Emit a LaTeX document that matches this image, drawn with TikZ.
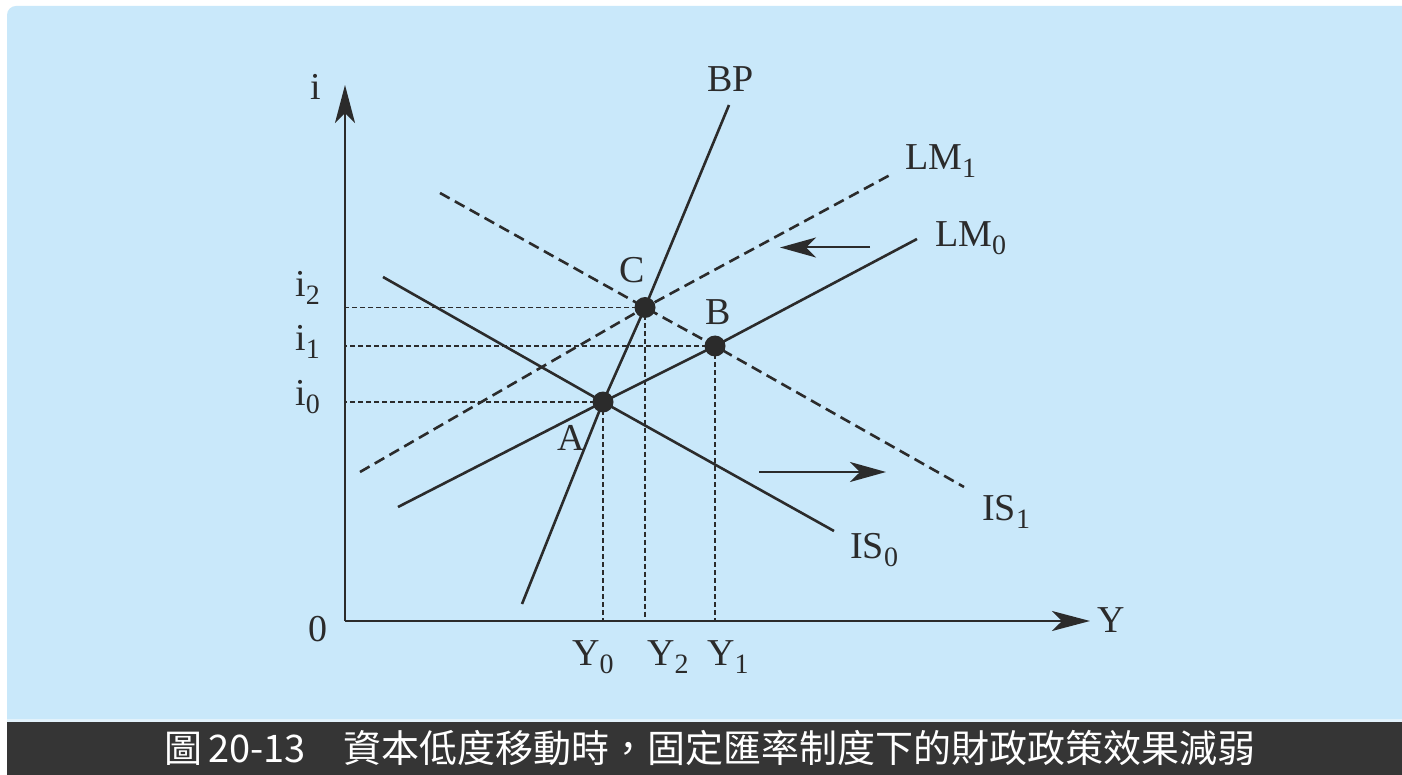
\documentclass[tikz,border=0pt]{standalone}
\usepackage{fontspec}
\setmainfont{Liberation Serif}
\newfontfamily\cjk{Noto Sans CJK TC}
\usetikzlibrary{arrows.meta}
\definecolor{bgblue}{HTML}{C9E8FA}
\definecolor{ink}{HTML}{2B2B2B}
\definecolor{barcol}{HTML}{353535}
\definecolor{seam}{HTML}{E2F2FB}
\newcommand\lsub[1]{\raisebox{-8pt}{\fontsize{28}{28}\selectfont #1}}
\begin{document}
\begin{tikzpicture}[x=1pt,y=-1pt,
  lab/.style={font=\fontsize{38}{38}\selectfont, text=ink, inner sep=0pt, anchor=base west},
  curve/.style={line width=2.6pt, draw=ink},
  dcurve/.style={curve, dash pattern=on 11pt off 6pt},
  guide/.style={line width=1.2pt, draw=ink, dash pattern=on 5pt off 3pt},
  axis/.style={line width=2pt, draw=ink, -{Stealth[length=38pt,width=20pt,inset=10pt]}},
  shiftarr/.style={line width=2pt, draw=ink, -{Stealth[length=36pt,width=20pt,inset=10pt]}},
  dot/.style={circle, fill=ink, minimum size=21pt, inner sep=0pt}]
\useasboundingbox (0,0) rectangle (1402,775);
\fill[white] (0,0) rectangle (1402,775);
\fill[bgblue] (7,721) [rounded corners=9pt] -- (7,6) [sharp corners] -- (1402,6) -- (1402,721) -- cycle;
\fill[seam] (7,719) rectangle (1402,722);
\fill[barcol] (7,722) rectangle (1402,775);
\node[font=\cjk\fontsize{38}{38}\selectfont, text=white, inner sep=0pt] (cap) at (710,748) {圖\,20-13\quad 資本低度移動時，固定匯率制度下的財政政策效果減弱};

% coordinates
\coordinate (O) at (345,621);
\coordinate (ytip) at (345,85);
\coordinate (xtip) at (1090,621);
\coordinate (A) at (603,402);
\coordinate (B) at (715,346);
\coordinate (C) at (645,307.5);
\coordinate (bpS) at (522,604);
\coordinate (bpE) at (729,105);
\coordinate (is0S) at (383,277);
\coordinate (is0E) at (834,531);
\coordinate (is1S) at (440,193);
\coordinate (is1E) at (964,487);
\coordinate (lm0S) at (398,507);
\coordinate (lm0E) at (917,239);
\coordinate (lm1S) at (360,472);
\coordinate (lm1E) at (890,175);
\coordinate (lmS) at (870,247.5);
\coordinate (lmE) at (780,247.5);
\coordinate (isS) at (759,472);
\coordinate (isE) at (886,472);

% guides
\draw[guide] (C) -- (O |- C);
\draw[guide] (B) -- (O |- B);
\draw[guide] (A) -- (O |- A);
\draw[guide] (A) -- (A |- O);
\draw[guide] (C) -- (C |- O);
\draw[guide] (B) -- (B |- O);

% axes
\draw[axis] (O) -- (ytip);
\draw[axis] (O) -- (xtip);

% curves
\draw[curve] (bpS) -- (A) -- (C) -- (bpE);
\draw[curve] (is0S) -- (A) -- (is0E);
\draw[curve] (lm0S) -- (A) -- (B) -- (lm0E);
\draw[dcurve] (is1S) -- (C) -- (B) -- (is1E);
\draw[dcurve] (lm1S) -- (C) -- (lm1E);

% shift arrows
\draw[shiftarr] (lmS) -- (lmE);
\draw[shiftarr] (isS) -- (isE);

% dots
\node[dot] (Adot) at (A) {};
\node[dot] (Bdot) at (B) {};
\node[dot] (Cdot) at (C) {};

% labels
\node[lab] (li) at (310,100) {i};
\node[lab] (l0) at (308,641) {0};
\node[lab] (lY) at (1097,632) {Y};
\node[lab] (lBP) at (707,92) {BP};
\node[lab] (lLM1) at (905,170) {LM\lsub{1}};
\node[lab] (lLM0) at (935,247) {LM\lsub{0}};
\node[lab] (lIS1) at (982,520) {IS\lsub{1}};
\node[lab] (lIS0) at (850,558) {IS\lsub{0}};
\node[lab] (lC) at (619,283) {C};
\node[lab] (lB) at (705,325) {B};
\node[lab] (lA) at (557,450) {A};
\node[lab] (li2) at (295,297) {i\lsub{2}};
\node[lab] (li1) at (295,350) {i\lsub{1}};
\node[lab] (li0) at (295,405) {i\lsub{0}};
\node[lab] (lY0) at (572,665) {Y\lsub{0}};
\node[lab] (lY2) at (647,665) {Y\lsub{2}};
\node[lab] (lY1) at (707,665) {Y\lsub{1}};
\end{tikzpicture}
\end{document}
